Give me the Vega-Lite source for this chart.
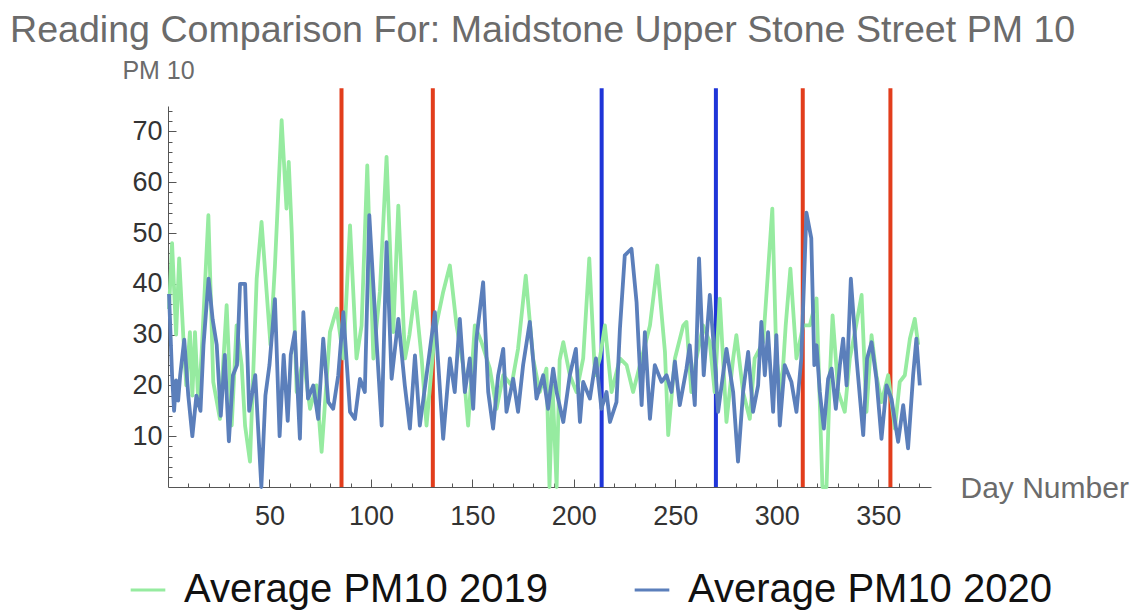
{
  "$schema": "https://vega.github.io/schema/vega-lite/v6.json",
  "width": 763,
  "height": 381,
  "autosize": {"type": "none"},
  "padding": {"left": 168, "top": 106, "right": 207, "bottom": 129},
  "background": "white",
  "title": {
    "text": "Reading Comparison For: Maidstone Upper Stone Street PM 10",
    "anchor": "start",
    "frame": "group",
    "dx": -158,
    "dy": 32,
    "offset": 10,
    "baseline": "alphabetic",
    "font": "Liberation Sans",
    "fontSize": 37.6,
    "fontWeight": "normal",
    "color": "#6b6b6b"
  },
  "config": {"view": {"stroke": null}, "font": "Liberation Sans", "axis": {"labelOverlap": false, "labelFlush": false, "labelSeparation": -1000}},
  "datasets": {
    "events": [
      {"day": 85.5, "kind": "red"},
      {"day": 130.5, "kind": "red"},
      {"day": 213.7, "kind": "blue"},
      {"day": 270, "kind": "blue"},
      {"day": 312.8, "kind": "red"},
      {"day": 356, "kind": "red"}
    ],
    "pm": [
      {"series": "Average PM10 2019", "day": 0.5, "pm10": 35},
      {"series": "Average PM10 2019", "day": 2, "pm10": 48},
      {"series": "Average PM10 2019", "day": 4, "pm10": 30},
      {"series": "Average PM10 2019", "day": 5.5, "pm10": 45},
      {"series": "Average PM10 2019", "day": 7.6, "pm10": 29.2},
      {"series": "Average PM10 2019", "day": 9, "pm10": 20},
      {"series": "Average PM10 2019", "day": 10.8, "pm10": 30.5},
      {"series": "Average PM10 2019", "day": 12, "pm10": 18},
      {"series": "Average PM10 2019", "day": 13.3, "pm10": 30.5},
      {"series": "Average PM10 2019", "day": 15, "pm10": 16},
      {"series": "Average PM10 2019", "day": 16.6, "pm10": 26.6},
      {"series": "Average PM10 2019", "day": 19.9, "pm10": 53.5},
      {"series": "Average PM10 2019", "day": 22.3, "pm10": 20.7},
      {"series": "Average PM10 2019", "day": 25.6, "pm10": 13.4},
      {"series": "Average PM10 2019", "day": 28.9, "pm10": 35.8},
      {"series": "Average PM10 2019", "day": 31.4, "pm10": 12.1},
      {"series": "Average PM10 2019", "day": 33.8, "pm10": 31.8},
      {"series": "Average PM10 2019", "day": 36.3, "pm10": 24},
      {"series": "Average PM10 2019", "day": 38, "pm10": 12},
      {"series": "Average PM10 2019", "day": 40.4, "pm10": 5},
      {"series": "Average PM10 2019", "day": 43.7, "pm10": 41},
      {"series": "Average PM10 2019", "day": 46.1, "pm10": 52.2},
      {"series": "Average PM10 2019", "day": 48.6, "pm10": 38.4},
      {"series": "Average PM10 2019", "day": 50.5, "pm10": 28},
      {"series": "Average PM10 2019", "day": 52.7, "pm10": 43.6},
      {"series": "Average PM10 2019", "day": 56, "pm10": 72.2},
      {"series": "Average PM10 2019", "day": 58.4, "pm10": 54.8},
      {"series": "Average PM10 2019", "day": 59.5, "pm10": 64},
      {"series": "Average PM10 2019", "day": 61, "pm10": 50},
      {"series": "Average PM10 2019", "day": 63.4, "pm10": 18.7},
      {"series": "Average PM10 2019", "day": 66.7, "pm10": 25.3},
      {"series": "Average PM10 2019", "day": 70, "pm10": 15.4},
      {"series": "Average PM10 2019", "day": 73.2, "pm10": 20},
      {"series": "Average PM10 2019", "day": 75.7, "pm10": 6.9},
      {"series": "Average PM10 2019", "day": 79.8, "pm10": 30.5},
      {"series": "Average PM10 2019", "day": 83.1, "pm10": 35.1},
      {"series": "Average PM10 2019", "day": 86.4, "pm10": 25.3},
      {"series": "Average PM10 2019", "day": 89.7, "pm10": 51.5},
      {"series": "Average PM10 2019", "day": 92.9, "pm10": 25.3},
      {"series": "Average PM10 2019", "day": 95.4, "pm10": 31.8},
      {"series": "Average PM10 2019", "day": 98.2, "pm10": 63.3},
      {"series": "Average PM10 2019", "day": 101.2, "pm10": 25.3},
      {"series": "Average PM10 2019", "day": 104.4, "pm10": 38.4},
      {"series": "Average PM10 2019", "day": 107.7, "pm10": 65},
      {"series": "Average PM10 2019", "day": 111, "pm10": 30.5},
      {"series": "Average PM10 2019", "day": 113.5, "pm10": 55.4},
      {"series": "Average PM10 2019", "day": 116.8, "pm10": 25.3},
      {"series": "Average PM10 2019", "day": 119, "pm10": 30},
      {"series": "Average PM10 2019", "day": 121.7, "pm10": 38.4},
      {"series": "Average PM10 2019", "day": 125, "pm10": 25.3},
      {"series": "Average PM10 2019", "day": 127.4, "pm10": 12.1},
      {"series": "Average PM10 2019", "day": 131.5, "pm10": 30.5},
      {"series": "Average PM10 2019", "day": 135.6, "pm10": 38.4},
      {"series": "Average PM10 2019", "day": 138.9, "pm10": 43.6},
      {"series": "Average PM10 2019", "day": 142.2, "pm10": 31.8},
      {"series": "Average PM10 2019", "day": 145.4, "pm10": 24},
      {"series": "Average PM10 2019", "day": 147.9, "pm10": 12.1},
      {"series": "Average PM10 2019", "day": 151.2, "pm10": 31.8},
      {"series": "Average PM10 2019", "day": 154.5, "pm10": 28.5},
      {"series": "Average PM10 2019", "day": 158.6, "pm10": 23.3},
      {"series": "Average PM10 2019", "day": 161.9, "pm10": 15.4},
      {"series": "Average PM10 2019", "day": 165.2, "pm10": 22},
      {"series": "Average PM10 2019", "day": 169.3, "pm10": 20},
      {"series": "Average PM10 2019", "day": 172.5, "pm10": 27.2},
      {"series": "Average PM10 2019", "day": 176.3, "pm10": 41.6},
      {"series": "Average PM10 2019", "day": 179.9, "pm10": 25.3},
      {"series": "Average PM10 2019", "day": 183.2, "pm10": 18.7},
      {"series": "Average PM10 2019", "day": 186.5, "pm10": 23.3},
      {"series": "Average PM10 2019", "day": 188, "pm10": 0},
      {"series": "Average PM10 2019", "day": 189.5, "pm10": 20},
      {"series": "Average PM10 2019", "day": 191.5, "pm10": 0},
      {"series": "Average PM10 2019", "day": 193, "pm10": 25},
      {"series": "Average PM10 2019", "day": 194.8, "pm10": 28.5},
      {"series": "Average PM10 2019", "day": 198, "pm10": 22},
      {"series": "Average PM10 2019", "day": 201.3, "pm10": 18.7},
      {"series": "Average PM10 2019", "day": 204.6, "pm10": 25.3},
      {"series": "Average PM10 2019", "day": 207.6, "pm10": 45},
      {"series": "Average PM10 2019", "day": 210.4, "pm10": 22},
      {"series": "Average PM10 2019", "day": 212.8, "pm10": 25.3},
      {"series": "Average PM10 2019", "day": 215.3, "pm10": 31.8},
      {"series": "Average PM10 2019", "day": 218.6, "pm10": 18.7},
      {"series": "Average PM10 2019", "day": 222.7, "pm10": 25.3},
      {"series": "Average PM10 2019", "day": 226, "pm10": 24},
      {"series": "Average PM10 2019", "day": 229.2, "pm10": 18.7},
      {"series": "Average PM10 2019", "day": 233.4, "pm10": 25.3},
      {"series": "Average PM10 2019", "day": 237.5, "pm10": 31.8},
      {"series": "Average PM10 2019", "day": 241.1, "pm10": 43.6},
      {"series": "Average PM10 2019", "day": 244.9, "pm10": 26.6},
      {"series": "Average PM10 2019", "day": 246.5, "pm10": 10.2},
      {"series": "Average PM10 2019", "day": 249.8, "pm10": 25.3},
      {"series": "Average PM10 2019", "day": 253.9, "pm10": 31.8},
      {"series": "Average PM10 2019", "day": 255.5, "pm10": 32.5},
      {"series": "Average PM10 2019", "day": 257.9, "pm10": 18.7},
      {"series": "Average PM10 2019", "day": 260.4, "pm10": 25.3},
      {"series": "Average PM10 2019", "day": 263.7, "pm10": 31.8},
      {"series": "Average PM10 2019", "day": 267, "pm10": 28.5},
      {"series": "Average PM10 2019", "day": 269.4, "pm10": 18.7},
      {"series": "Average PM10 2019", "day": 271.9, "pm10": 37.1},
      {"series": "Average PM10 2019", "day": 275.2, "pm10": 12.8},
      {"series": "Average PM10 2019", "day": 278.5, "pm10": 25.3},
      {"series": "Average PM10 2019", "day": 280.1, "pm10": 29.9},
      {"series": "Average PM10 2019", "day": 283.4, "pm10": 18.7},
      {"series": "Average PM10 2019", "day": 286.7, "pm10": 13.4},
      {"series": "Average PM10 2019", "day": 289.1, "pm10": 25.3},
      {"series": "Average PM10 2019", "day": 293.3, "pm10": 28.5},
      {"series": "Average PM10 2019", "day": 297.8, "pm10": 54.8},
      {"series": "Average PM10 2019", "day": 299.8, "pm10": 25.3},
      {"series": "Average PM10 2019", "day": 302.3, "pm10": 18.7},
      {"series": "Average PM10 2019", "day": 304.4, "pm10": 31.8},
      {"series": "Average PM10 2019", "day": 306.7, "pm10": 43},
      {"series": "Average PM10 2019", "day": 309.7, "pm10": 25.3},
      {"series": "Average PM10 2019", "day": 313, "pm10": 31.8},
      {"series": "Average PM10 2019", "day": 316.3, "pm10": 31.8},
      {"series": "Average PM10 2019", "day": 319.6, "pm10": 37.1},
      {"series": "Average PM10 2019", "day": 322.5, "pm10": 0},
      {"series": "Average PM10 2019", "day": 324.5, "pm10": 0},
      {"series": "Average PM10 2019", "day": 326.2, "pm10": 22},
      {"series": "Average PM10 2019", "day": 327.5, "pm10": 33.8},
      {"series": "Average PM10 2019", "day": 330.3, "pm10": 18.7},
      {"series": "Average PM10 2019", "day": 333.5, "pm10": 14.8},
      {"series": "Average PM10 2019", "day": 336, "pm10": 25.3},
      {"series": "Average PM10 2019", "day": 338.5, "pm10": 30.5},
      {"series": "Average PM10 2019", "day": 341.8, "pm10": 37.8},
      {"series": "Average PM10 2019", "day": 344.2, "pm10": 14.8},
      {"series": "Average PM10 2019", "day": 346.7, "pm10": 29.9},
      {"series": "Average PM10 2019", "day": 349.1, "pm10": 22},
      {"series": "Average PM10 2019", "day": 351.6, "pm10": 16.7},
      {"series": "Average PM10 2019", "day": 354.9, "pm10": 22},
      {"series": "Average PM10 2019", "day": 358.2, "pm10": 11.5},
      {"series": "Average PM10 2019", "day": 360.6, "pm10": 20.7},
      {"series": "Average PM10 2019", "day": 363.1, "pm10": 22},
      {"series": "Average PM10 2019", "day": 365.6, "pm10": 29.2},
      {"series": "Average PM10 2019", "day": 368, "pm10": 33.1},
      {"series": "Average PM10 2019", "day": 369.7, "pm10": 28},
      {"series": "Average PM10 2020", "day": 0.5, "pm10": 38},
      {"series": "Average PM10 2020", "day": 2, "pm10": 22},
      {"series": "Average PM10 2020", "day": 3, "pm10": 15},
      {"series": "Average PM10 2020", "day": 4, "pm10": 21},
      {"series": "Average PM10 2020", "day": 5, "pm10": 17},
      {"series": "Average PM10 2020", "day": 6, "pm10": 22},
      {"series": "Average PM10 2020", "day": 8, "pm10": 29},
      {"series": "Average PM10 2020", "day": 10, "pm10": 18},
      {"series": "Average PM10 2020", "day": 12, "pm10": 10},
      {"series": "Average PM10 2020", "day": 14, "pm10": 18},
      {"series": "Average PM10 2020", "day": 16, "pm10": 15},
      {"series": "Average PM10 2020", "day": 17.5, "pm10": 28},
      {"series": "Average PM10 2020", "day": 20, "pm10": 41},
      {"series": "Average PM10 2020", "day": 22, "pm10": 33},
      {"series": "Average PM10 2020", "day": 24, "pm10": 28},
      {"series": "Average PM10 2020", "day": 26, "pm10": 14},
      {"series": "Average PM10 2020", "day": 28, "pm10": 26},
      {"series": "Average PM10 2020", "day": 30, "pm10": 9},
      {"series": "Average PM10 2020", "day": 32, "pm10": 22},
      {"series": "Average PM10 2020", "day": 34, "pm10": 24},
      {"series": "Average PM10 2020", "day": 35.5, "pm10": 40},
      {"series": "Average PM10 2020", "day": 38, "pm10": 40},
      {"series": "Average PM10 2020", "day": 40, "pm10": 15},
      {"series": "Average PM10 2020", "day": 43, "pm10": 22},
      {"series": "Average PM10 2020", "day": 46, "pm10": 0},
      {"series": "Average PM10 2020", "day": 48, "pm10": 18},
      {"series": "Average PM10 2020", "day": 50, "pm10": 24},
      {"series": "Average PM10 2020", "day": 52.7, "pm10": 37},
      {"series": "Average PM10 2020", "day": 55, "pm10": 10},
      {"series": "Average PM10 2020", "day": 57, "pm10": 26},
      {"series": "Average PM10 2020", "day": 59, "pm10": 13},
      {"series": "Average PM10 2020", "day": 60.5, "pm10": 26},
      {"series": "Average PM10 2020", "day": 62.5, "pm10": 30.5},
      {"series": "Average PM10 2020", "day": 65, "pm10": 9.5},
      {"series": "Average PM10 2020", "day": 66.7, "pm10": 34.4},
      {"series": "Average PM10 2020", "day": 69, "pm10": 17.4},
      {"series": "Average PM10 2020", "day": 71.6, "pm10": 20},
      {"series": "Average PM10 2020", "day": 74, "pm10": 13.4},
      {"series": "Average PM10 2020", "day": 76.5, "pm10": 29.2},
      {"series": "Average PM10 2020", "day": 79, "pm10": 16.7},
      {"series": "Average PM10 2020", "day": 81.4, "pm10": 15.4},
      {"series": "Average PM10 2020", "day": 83.9, "pm10": 22},
      {"series": "Average PM10 2020", "day": 86.4, "pm10": 34.4},
      {"series": "Average PM10 2020", "day": 89.7, "pm10": 14.8},
      {"series": "Average PM10 2020", "day": 92.1, "pm10": 13.4},
      {"series": "Average PM10 2020", "day": 94.6, "pm10": 21.3},
      {"series": "Average PM10 2020", "day": 97, "pm10": 18.7},
      {"series": "Average PM10 2020", "day": 99.2, "pm10": 53.5},
      {"series": "Average PM10 2020", "day": 102.8, "pm10": 28.5},
      {"series": "Average PM10 2020", "day": 105.3, "pm10": 12.1},
      {"series": "Average PM10 2020", "day": 107.7, "pm10": 48.2},
      {"series": "Average PM10 2020", "day": 110.2, "pm10": 21.3},
      {"series": "Average PM10 2020", "day": 113.5, "pm10": 33.1},
      {"series": "Average PM10 2020", "day": 116.7, "pm10": 20},
      {"series": "Average PM10 2020", "day": 119.2, "pm10": 11.5},
      {"series": "Average PM10 2020", "day": 121.7, "pm10": 25.9},
      {"series": "Average PM10 2020", "day": 124.1, "pm10": 12.1},
      {"series": "Average PM10 2020", "day": 127.4, "pm10": 22},
      {"series": "Average PM10 2020", "day": 131.5, "pm10": 34.4},
      {"series": "Average PM10 2020", "day": 135.6, "pm10": 9.5},
      {"series": "Average PM10 2020", "day": 138.9, "pm10": 25.3},
      {"series": "Average PM10 2020", "day": 141.3, "pm10": 18.7},
      {"series": "Average PM10 2020", "day": 143.8, "pm10": 33.1},
      {"series": "Average PM10 2020", "day": 146.3, "pm10": 18.7},
      {"series": "Average PM10 2020", "day": 148.7, "pm10": 25.3},
      {"series": "Average PM10 2020", "day": 150.4, "pm10": 15.4},
      {"series": "Average PM10 2020", "day": 152, "pm10": 29.2},
      {"series": "Average PM10 2020", "day": 155.3, "pm10": 40.3},
      {"series": "Average PM10 2020", "day": 157.8, "pm10": 18.7},
      {"series": "Average PM10 2020", "day": 160.2, "pm10": 11.5},
      {"series": "Average PM10 2020", "day": 162.7, "pm10": 22},
      {"series": "Average PM10 2020", "day": 165.2, "pm10": 27.2},
      {"series": "Average PM10 2020", "day": 166.8, "pm10": 14.8},
      {"series": "Average PM10 2020", "day": 170.1, "pm10": 21.3},
      {"series": "Average PM10 2020", "day": 172.5, "pm10": 14.8},
      {"series": "Average PM10 2020", "day": 175, "pm10": 24},
      {"series": "Average PM10 2020", "day": 178.3, "pm10": 32.5},
      {"series": "Average PM10 2020", "day": 181.6, "pm10": 17.4},
      {"series": "Average PM10 2020", "day": 184.9, "pm10": 22},
      {"series": "Average PM10 2020", "day": 187.3, "pm10": 15.4},
      {"series": "Average PM10 2020", "day": 189.8, "pm10": 23.3},
      {"series": "Average PM10 2020", "day": 191.5, "pm10": 18.7},
      {"series": "Average PM10 2020", "day": 194.8, "pm10": 12.8},
      {"series": "Average PM10 2020", "day": 198, "pm10": 22},
      {"series": "Average PM10 2020", "day": 201, "pm10": 27.2},
      {"series": "Average PM10 2020", "day": 203, "pm10": 12.8},
      {"series": "Average PM10 2020", "day": 204.6, "pm10": 20.7},
      {"series": "Average PM10 2020", "day": 207.9, "pm10": 17.4},
      {"series": "Average PM10 2020", "day": 210.9, "pm10": 25.3},
      {"series": "Average PM10 2020", "day": 213.6, "pm10": 15.4},
      {"series": "Average PM10 2020", "day": 216.1, "pm10": 18.7},
      {"series": "Average PM10 2020", "day": 217.8, "pm10": 12.8},
      {"series": "Average PM10 2020", "day": 221, "pm10": 16.7},
      {"series": "Average PM10 2020", "day": 222.7, "pm10": 31.1},
      {"series": "Average PM10 2020", "day": 225.1, "pm10": 45.6},
      {"series": "Average PM10 2020", "day": 228.4, "pm10": 46.9},
      {"series": "Average PM10 2020", "day": 230.9, "pm10": 36.4},
      {"series": "Average PM10 2020", "day": 233.4, "pm10": 16.1},
      {"series": "Average PM10 2020", "day": 235, "pm10": 30.5},
      {"series": "Average PM10 2020", "day": 237.5, "pm10": 13.4},
      {"series": "Average PM10 2020", "day": 239.9, "pm10": 24},
      {"series": "Average PM10 2020", "day": 243.2, "pm10": 20.7},
      {"series": "Average PM10 2020", "day": 245.7, "pm10": 22},
      {"series": "Average PM10 2020", "day": 248.1, "pm10": 18.7},
      {"series": "Average PM10 2020", "day": 249.8, "pm10": 24.7},
      {"series": "Average PM10 2020", "day": 252.2, "pm10": 16.1},
      {"series": "Average PM10 2020", "day": 255.5, "pm10": 23.3},
      {"series": "Average PM10 2020", "day": 257.1, "pm10": 27.9},
      {"series": "Average PM10 2020", "day": 259.6, "pm10": 16.1},
      {"series": "Average PM10 2020", "day": 261.7, "pm10": 45},
      {"series": "Average PM10 2020", "day": 264, "pm10": 22},
      {"series": "Average PM10 2020", "day": 267, "pm10": 37.8},
      {"series": "Average PM10 2020", "day": 269.4, "pm10": 25.3},
      {"series": "Average PM10 2020", "day": 271.1, "pm10": 14.8},
      {"series": "Average PM10 2020", "day": 275.2, "pm10": 27.2},
      {"series": "Average PM10 2020", "day": 278.5, "pm10": 18.7},
      {"series": "Average PM10 2020", "day": 280.9, "pm10": 5},
      {"series": "Average PM10 2020", "day": 283.4, "pm10": 18.7},
      {"series": "Average PM10 2020", "day": 285.9, "pm10": 26.6},
      {"series": "Average PM10 2020", "day": 288.3, "pm10": 14.8},
      {"series": "Average PM10 2020", "day": 290.8, "pm10": 20},
      {"series": "Average PM10 2020", "day": 292.4, "pm10": 32.5},
      {"series": "Average PM10 2020", "day": 294.1, "pm10": 22},
      {"series": "Average PM10 2020", "day": 295.7, "pm10": 30.5},
      {"series": "Average PM10 2020", "day": 298.2, "pm10": 14.8},
      {"series": "Average PM10 2020", "day": 299.8, "pm10": 29.9},
      {"series": "Average PM10 2020", "day": 301.5, "pm10": 12.1},
      {"series": "Average PM10 2020", "day": 303.9, "pm10": 24},
      {"series": "Average PM10 2020", "day": 307.2, "pm10": 20.7},
      {"series": "Average PM10 2020", "day": 309.7, "pm10": 14.8},
      {"series": "Average PM10 2020", "day": 312.1, "pm10": 25.3},
      {"series": "Average PM10 2020", "day": 314.6, "pm10": 54},
      {"series": "Average PM10 2020", "day": 317, "pm10": 49},
      {"series": "Average PM10 2020", "day": 318.5, "pm10": 24},
      {"series": "Average PM10 2020", "day": 319.6, "pm10": 27.9},
      {"series": "Average PM10 2020", "day": 321.2, "pm10": 18.7},
      {"series": "Average PM10 2020", "day": 323.2, "pm10": 11.5},
      {"series": "Average PM10 2020", "day": 325.3, "pm10": 21.3},
      {"series": "Average PM10 2020", "day": 327, "pm10": 23.3},
      {"series": "Average PM10 2020", "day": 329.1, "pm10": 15.4},
      {"series": "Average PM10 2020", "day": 331.1, "pm10": 24},
      {"series": "Average PM10 2020", "day": 332.7, "pm10": 29.2},
      {"series": "Average PM10 2020", "day": 334.4, "pm10": 20},
      {"series": "Average PM10 2020", "day": 336.5, "pm10": 41},
      {"series": "Average PM10 2020", "day": 339.3, "pm10": 25.3},
      {"series": "Average PM10 2020", "day": 342.6, "pm10": 10.2},
      {"series": "Average PM10 2020", "day": 344.5, "pm10": 25.3},
      {"series": "Average PM10 2020", "day": 346.7, "pm10": 28.5},
      {"series": "Average PM10 2020", "day": 349.1, "pm10": 21.3},
      {"series": "Average PM10 2020", "day": 351.6, "pm10": 9.5},
      {"series": "Average PM10 2020", "day": 354.1, "pm10": 20},
      {"series": "Average PM10 2020", "day": 356.5, "pm10": 17.4},
      {"series": "Average PM10 2020", "day": 359.8, "pm10": 8.9},
      {"series": "Average PM10 2020", "day": 362.3, "pm10": 16.1},
      {"series": "Average PM10 2020", "day": 364.7, "pm10": 7.6},
      {"series": "Average PM10 2020", "day": 367.2, "pm10": 22},
      {"series": "Average PM10 2020", "day": 368.8, "pm10": 29.2},
      {"series": "Average PM10 2020", "day": 370.5, "pm10": 20}
    ]
  },
  "encoding": {
    "x": {
      "field": "day",
      "type": "quantitative",
      "scale": {"domain": [0, 376], "nice": false, "zero": false},
      "axis": {
        "values": [10, 20, 30, 40, 50, 60, 70, 80, 90, 100, 110, 120, 130, 140, 150, 160, 170, 180, 190, 200, 210, 220, 230, 240, 250, 260, 270, 280, 290, 300, 310, 320, 330, 340, 350, 360, 370],
        "labelExpr": "datum.value % 50 === 0 ? datum.label : ''",
        "labelOverlap": false,
        "labelSeparation": -1000,
        "labelFlush": false,
        "labelFontSize": 27,
        "labelPadding": 24,
        "labelColor": "#333333",
        "tickSize": {"condition": {"test": "datum.value % 50 === 0", "value": -8}, "value": -4},
        "tickColor": "#555555",
        "domainColor": "#555555",
        "grid": false,
        "title": "Day Number",
        "titleX": 792,
        "titleY": 10,
        "titleAlign": "left",
        "titleBaseline": "alphabetic",
        "titleAngle": 0,
        "titleFontSize": 30,
        "titleFontWeight": "normal",
        "titleColor": "#6b6b6b"
      }
    }
  },
  "layer": [
    {
      "data": {"name": "events"},
      "mark": {"type": "rule", "strokeWidth": 4},
      "encoding": {
        "y": {
          "datum": 0,
          "type": "quantitative",
          "scale": {"domain": [0, 75], "nice": false, "zero": false},
          "axis": {
            "values": [2, 4, 6, 8, 10, 12, 14, 16, 18, 20, 22, 24, 26, 28, 30, 32, 34, 36, 38, 40, 42, 44, 46, 48, 50, 52, 54, 56, 58, 60, 62, 64, 66, 68, 70, 72, 74],
            "labelExpr": "datum.value % 10 === 0 ? datum.label : ''",
            "labelOverlap": false,
            "labelSeparation": -1000,
            "labelFlush": false,
            "labelFontSize": 27,
            "labelPadding": 14,
            "labelColor": "#333333",
            "tickSize": {"condition": {"test": "datum.value % 10 === 0", "value": -8}, "value": -4},
            "tickColor": "#555555",
            "domainColor": "#555555",
            "grid": false,
            "title": "PM 10",
            "titleX": -10,
            "titleY": -28,
            "titleAlign": "center",
            "titleBaseline": "alphabetic",
            "titleAngle": 0,
            "titleFontSize": 25,
            "titleFontWeight": "normal",
            "titleColor": "#6b6b6b"
          }
        },
        "y2": {"datum": 78.5},
        "stroke": {
          "field": "kind",
          "type": "nominal",
          "scale": {"domain": ["red", "blue"], "range": ["#e23d1c", "#1f35d8"]},
          "legend": null
        }
      }
    },
    {
      "data": {"name": "pm"},
      "mark": {"type": "line", "strokeWidth": 3.8, "strokeJoin": "round"},
      "encoding": {
        "y": {
          "field": "pm10",
          "type": "quantitative",
          "axis": {
            "values": [2, 4, 6, 8, 10, 12, 14, 16, 18, 20, 22, 24, 26, 28, 30, 32, 34, 36, 38, 40, 42, 44, 46, 48, 50, 52, 54, 56, 58, 60, 62, 64, 66, 68, 70, 72, 74],
            "labelExpr": "datum.value % 10 === 0 ? datum.label : ''",
            "labelOverlap": false,
            "labelSeparation": -1000,
            "labelFlush": false,
            "labelFontSize": 27,
            "labelPadding": 14,
            "labelColor": "#333333",
            "tickSize": {"condition": {"test": "datum.value % 10 === 0", "value": -8}, "value": -4},
            "tickColor": "#555555",
            "domainColor": "#555555",
            "grid": false,
            "title": "PM 10",
            "titleX": -10,
            "titleY": -28,
            "titleAlign": "center",
            "titleBaseline": "alphabetic",
            "titleAngle": 0,
            "titleFontSize": 25,
            "titleFontWeight": "normal",
            "titleColor": "#6b6b6b"
          }
        },
        "color": {
          "field": "series",
          "type": "nominal",
          "scale": {"domain": ["Average PM10 2019", "Average PM10 2020"], "range": ["#96eba0", "#5b7fbb"]},
          "legend": {
            "orient": "none",
            "legendX": -40,
            "legendY": 464,
            "direction": "horizontal",
            "title": null,
            "symbolType": "stroke",
            "symbolSize": 1200,
            "symbolStrokeWidth": 3,
            "labelFontSize": 40,
            "labelFont": "Liberation Sans",
            "labelColor": "#111111",
            "labelOffset": 16,
            "labelLimit": 0,
            "columnPadding": 80
          }
        }
      }
    }
  ]
}
